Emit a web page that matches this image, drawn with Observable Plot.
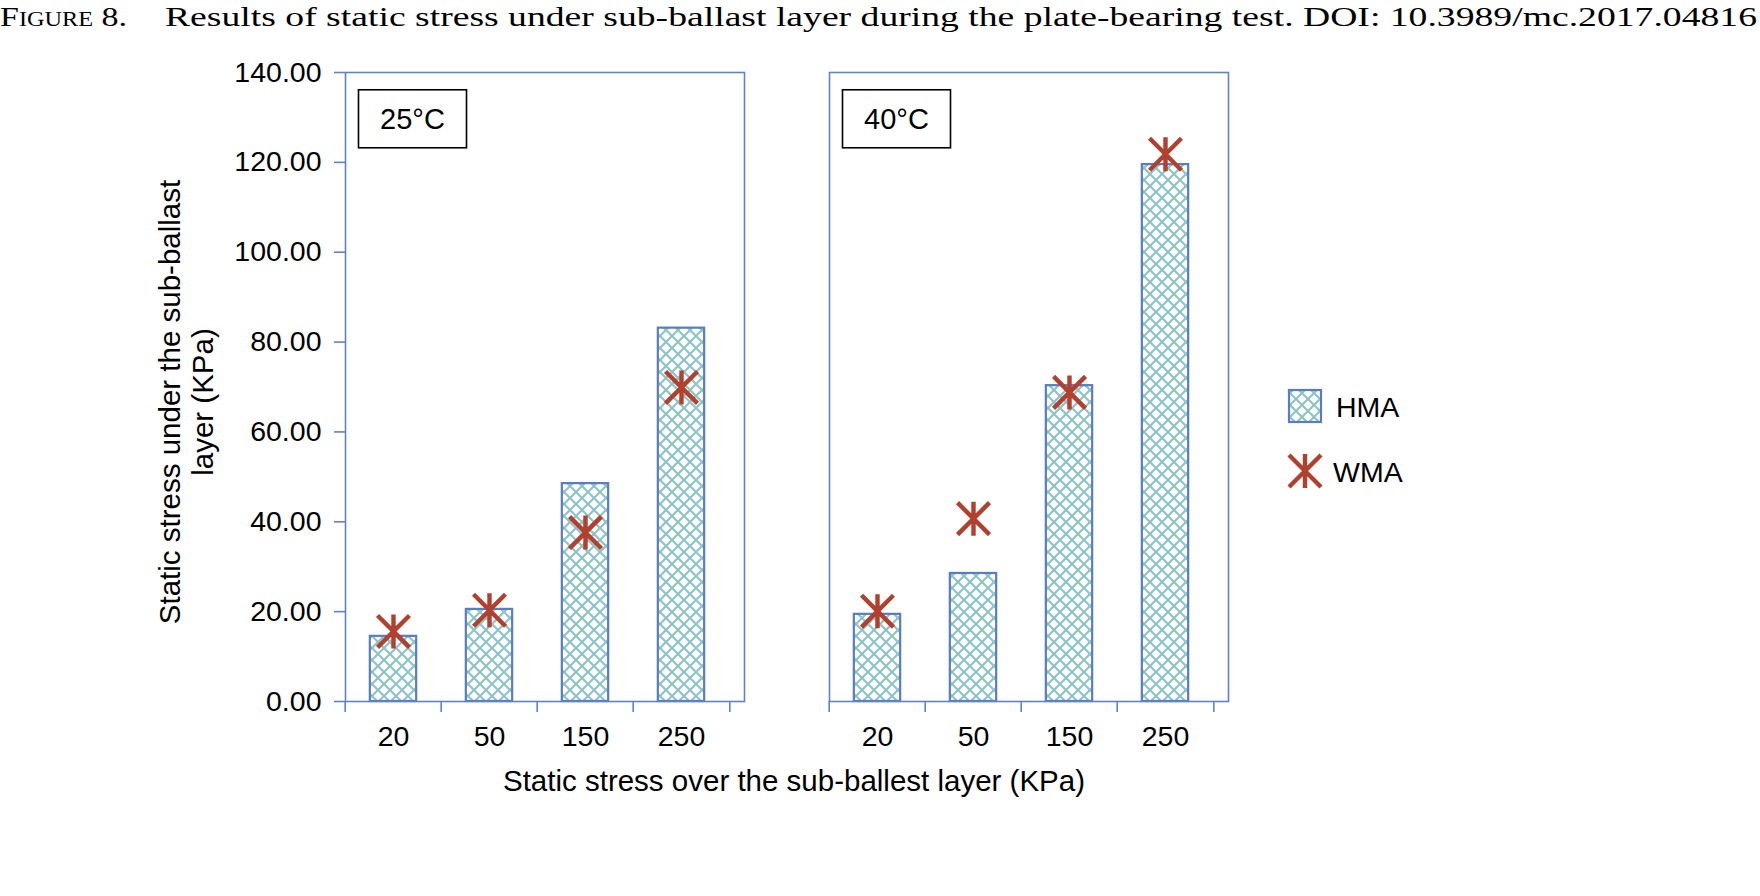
<!DOCTYPE html>
<html>
<head>
<meta charset="utf-8">
<script src="https://cdn.jsdelivr.net/npm/d3@7"></script>
<script src="https://cdn.jsdelivr.net/npm/@observablehq/plot@0.6"></script>
<style>
  body { margin: 0; background: #fff; }
  #wrap { position: relative; width: 1760px; height: 896px; overflow: hidden; background: #fff; }
  #chart { position: absolute; left: 0; top: 0; }
  #overlay { position: absolute; left: 0; top: 0; pointer-events: none; }
</style>
</head>
<body>
<div id="wrap">
  <div id="chart"></div>
  <svg id="overlay" width="1760" height="896" xmlns="http://www.w3.org/2000/svg"></svg>
</div>
<script>
// ---- data ----
const temps = ["25°C", "40°C"];
const stressLevels = ["20", "50", "150", "250"];
const hma25 = [14.5, 20.5, 48.5, 83.1];
const wma25 = [15.6, 20.3, 37.6, 69.9];
const hma40 = [19.4, 28.5, 70.3, 119.5];
const wma40 = [20.1, 40.7, 68.8, 121.8];
const yTicks = [0, 20, 40, 60, 80, 100, 120, 140];
const seriesNames = ["HMA", "WMA"];
const titleLead = "Figure 8.";
const titleText = "Results of static stress under sub-ballast layer during the plate-bearing test. DOI: 10.3989/mc.2017.04816";
const xTitle = "Static stress over the sub-ballest layer (KPa)";
const yTitleLines = ["Static stress under the sub-ballast", "layer (KPa)"];

const rows = [];
temps.forEach((t, ti) => {
  const h = ti === 0 ? hma25 : hma40;
  const w = ti === 0 ? wma25 : wma40;
  stressLevels.forEach((s, i) => rows.push({ temp: t, stress: s, hma: h[i], wma: w[i] }));
});

// ---- layout / style ----
const W = 1760, H = 896;
const frameL = 345, frameR = 1229, frameT = 72, frameB = 701, gap = 85;
const facetW = (frameR - frameL - gap) / 2;
const po = 0.0675;
const step = facetW / (stressLevels.length + 2 * po);
const barFrac = 0.486;
const inset = step * (1 - barFrac) / 2;
const blue = "#6183c2", barStroke = "#5a7ebd", teal = "#8fc4c7", red = "#b2402e";
const font = "'Liberation Sans', Arial, Helvetica, sans-serif";

const asterisk = {
  draw(ctx, size) {
    const r = Math.sqrt(size / Math.PI);
    const d = r * 0.94;
    ctx.moveTo(0, -r); ctx.lineTo(0, r);
    ctx.moveTo(-d, -d); ctx.lineTo(d, d);
    ctx.moveTo(-d, d); ctx.lineTo(d, -d);
  }
};

const chart = Plot.plot({
  width: W, height: H,
  marginLeft: frameL, marginRight: W - frameR, marginTop: frameT, marginBottom: H - frameB,
  style: { fontFamily: font, fontSize: "28.5px", color: "black", background: "white", overflow: "visible" },
  fx: { domain: temps, paddingInner: gap / (facetW + gap), paddingOuter: 0, axis: null, label: null },
  x: { domain: stressLevels, paddingInner: 0, paddingOuter: po, align: 0, label: null },
  y: { domain: [0, 140], label: null },
  marks: [
    Plot.barY(rows, { fx: "temp", x: "stress", y: "hma", fill: "url(#hatch)", stroke: barStroke, strokeWidth: 2.2, insetLeft: inset, insetRight: inset }),
    Plot.dot(rows, { fx: "temp", x: "stress", y: "wma", symbol: asterisk, r: 17, stroke: red, strokeWidth: 4.4, fill: "none" }),
    Plot.frame({ stroke: blue, strokeWidth: 1.6 }),
    Plot.axisY({ ticks: yTicks, tickFormat: d3.format(".2f"), tickSize: 11, tickPadding: 13, stroke: blue, strokeWidth: 1.6, fill: "black", label: null, fontSize: 28.5 }),
    Plot.axisX({ text: null, tickSize: 11, dx: -step / 2, stroke: blue, strokeWidth: 1.6, label: null }),
    Plot.axisX({ ticks: [stressLevels[stressLevels.length - 1]], text: null, tickSize: 11, dx: step / 2, stroke: blue, strokeWidth: 1.6, label: null }),
    Plot.axisX({ tickSize: 0, tickPadding: 24, fill: "black", label: null, fontSize: 28.5 }),
    Plot.text(temps, { fx: d => d, text: d => d, frameAnchor: "top-left", dx: 67, dy: 47, textAnchor: "middle", lineAnchor: "middle", fontSize: 29, fill: "black" })
  ]
});

// pattern defs
const NS = "http://www.w3.org/2000/svg";
function makeHatch(id) {
  const defs = document.createElementNS(NS, "defs");
  const pat = document.createElementNS(NS, "pattern");
  pat.setAttribute("id", id);
  pat.setAttribute("patternUnits", "userSpaceOnUse");
  pat.setAttribute("width", 12); pat.setAttribute("height", 12);
  const bg = document.createElementNS(NS, "rect");
  bg.setAttribute("width", 12); bg.setAttribute("height", 12); bg.setAttribute("fill", "white");
  const p = document.createElementNS(NS, "path");
  p.setAttribute("d", "M-3,-3L15,15M15,-3L-3,15");
  p.setAttribute("stroke", teal); p.setAttribute("stroke-width", 2.2); p.setAttribute("fill", "none");
  pat.append(bg, p); defs.append(pat);
  return defs;
}
chart.prepend(makeHatch("hatch"));
document.getElementById("chart").append(chart);

// boxes around panel labels
Array.from(chart.querySelectorAll("text")).filter(t => temps.includes(t.textContent)).forEach(t => {
  const b = t.getBBox();
  const cx = b.x + b.width / 2, cy = b.y + b.height / 2;
  const r = document.createElementNS(NS, "rect");
  r.setAttribute("x", cx - 54); r.setAttribute("y", cy - 29);
  r.setAttribute("width", 108); r.setAttribute("height", 58);
  r.setAttribute("fill", "white"); r.setAttribute("stroke", "black"); r.setAttribute("stroke-width", 1.6);
  const tr = t.getAttribute("transform");
  if (tr) r.setAttribute("transform", tr);
  t.parentNode.insertBefore(r, t);
});

// overlay: title, axis titles, legend
const ov = d3.select("#overlay");
ov.node().append(makeHatch("hatch2"));
// title
const tl = ov.append("text").attr("x", 0).attr("y", 26)
  .attr("font-family", "'Liberation Serif', 'Times New Roman', serif").attr("font-size", 28)
  .attr("textLength", 127).attr("lengthAdjust", "spacingAndGlyphs");
tl.append("tspan").text(titleLead[0]);
tl.append("tspan").attr("font-size", 20).text(titleLead.slice(1, 6).toUpperCase());
tl.append("tspan").text(titleLead.slice(6));
ov.append("text").attr("x", 165).attr("y", 26)
  .attr("font-family", "'Liberation Serif', 'Times New Roman', serif").attr("font-size", 28)
  .attr("textLength", 1592).attr("lengthAdjust", "spacingAndGlyphs")
  .text(titleText);
// x title
ov.append("text").attr("x", (frameL + frameR) / 2 + 7).attr("y", 791)
  .attr("text-anchor", "middle").attr("font-family", font).attr("font-size", 29.5)
  .text(xTitle);
// y title
const yt = ov.append("text").attr("transform", "translate(186.5,402) rotate(-90)")
  .attr("text-anchor", "middle").attr("font-family", font).attr("font-size", 29.5);
yTitleLines.forEach((line, i) => yt.append("tspan").attr("x", 0).attr("y", -16.5 + 33 * i + 10).text(line));
// legend
const lg = ov.append("g").attr("transform", "translate(1272,375)");
lg.append("rect").attr("x", 17).attr("y", 15).attr("width", 32).attr("height", 32)
  .attr("fill", "url(#hatch2)").attr("stroke", barStroke).attr("stroke-width", 2.2);
lg.append("text").attr("x", 64).attr("y", 42).attr("font-family", font).attr("font-size", 28.5).text(seriesNames[0]);
lg.append("path").attr("transform", "translate(33,96)")
  .attr("d", d3.symbol(asterisk, 17 * 17 * Math.PI)())
  .attr("stroke", red).attr("stroke-width", 4.4).attr("fill", "none");
lg.append("text").attr("x", 61).attr("y", 107).attr("font-family", font).attr("font-size", 28.5).text(seriesNames[1]);
</script>
</body>
</html>
